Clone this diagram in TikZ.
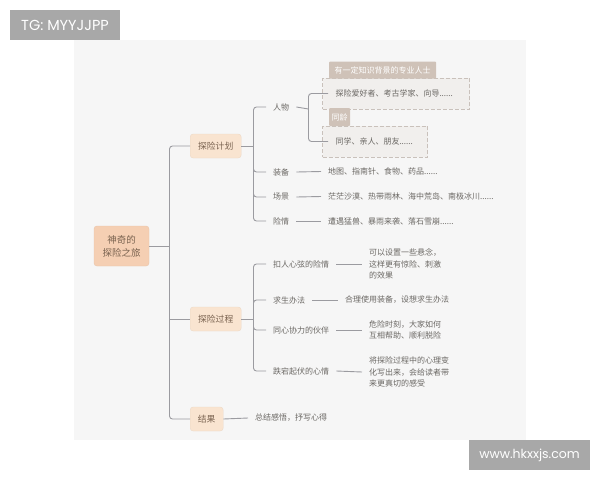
\documentclass[tikz,border=0pt]{standalone}
\usepackage{fontspec}
\setmainfont{Noto Sans CJK SC}
\newfontfamily\markfont{Poppins}
\definecolor{panelgray}{HTML}{F6F6F6}
\definecolor{markgray}{HTML}{A8A8A8}
\definecolor{linegray}{HTML}{9B9BA0}
\definecolor{inkgray}{HTML}{6B6864}
\definecolor{boxink}{HTML}{7A6350}
\definecolor{rootfill}{HTML}{F5CFB3}
\definecolor{topicfill}{HTML}{F9E4D0}
\definecolor{tagfill}{HTML}{CFC2B8}
\definecolor{notefill}{HTML}{F1EFED}
\definecolor{noteedge}{HTML}{C9C1BB}
\begin{document}
\begin{tikzpicture}[x=1pt,y=-1pt]
    \tikzset{
        rootbox/.style={fill=rootfill,draw=rootfill!95!black,rounded corners=3pt,text=boxink,font=\fontsize{9.5}{13}\selectfont,align=center,minimum width=55pt,minimum height=40pt,inner sep=0pt},
        topicbox/.style={fill=topicfill,draw=topicfill!95!black,rounded corners=3pt,text=boxink,font=\fontsize{8.8}{11}\selectfont,minimum height=24pt,inner sep=0pt,anchor=west},
        itemtext/.style={anchor=west,inner xsep=7pt,inner ysep=0pt,text=inkgray,font=\fontsize{8}{11.2}\selectfont,align=left},
        notebox/.style={anchor=west,fill=notefill,draw=noteedge,dash pattern=on 4pt off 2pt,line width=1pt,inner xsep=0pt,inner ysep=0pt,minimum height=31pt,text=inkgray,font=\fontsize{8}{11}\selectfont,align=left},
        tagbox/.style={anchor=west,fill=tagfill,rounded corners=1pt,text=white,font=\fontsize{8}{10}\selectfont,minimum height=17pt,inner sep=0pt},
        wire/.style={draw=linegray,line width=0.9pt,rounded corners=3pt},
        markbox/.style={fill=markgray,text=white,inner sep=0pt,font=\markfont}
    }
    % frame
    \useasboundingbox (0,0) rectangle (600,480);
    \fill[panelgray] (74,40) rectangle (526,440);
    \node[markbox,minimum width=110pt,minimum height=30pt,font=\markfont\fontsize{14.5}{15}\selectfont] (tgmark) at (65,25) {TG: MYYJJPP};
    \node[markbox,minimum width=121pt,minimum height=30pt,font=\markfont\fontsize{12.5}{13}\selectfont] (sitemark) at (529.5,455) {www.hkxxjs.com};

    % main topics
    \node[rootbox] (root) at (121.5,246) {神奇的\\探险之旅};
    \node[topicbox,minimum width=51pt] (plan) at (190,146) {探险计划};
    \node[topicbox,minimum width=51pt] (trip) at (190,319) {探险过程};
    \node[topicbox,minimum width=33pt] (ending) at (190,419) {结果};
    \coordinate (maintrunk) at (169.5,246);
    \draw[wire] (root.east) -- (maintrunk);
    \draw[wire] (maintrunk) |- (plan.west);
    \draw[wire] (maintrunk) |- (ending.west);
    \draw[wire] (maintrunk |- trip.west) -- (trip.west);

    % plan side
    \coordinate (plantrunk) at (253.5,146);
    \node[itemtext] (people) at (266,107) {人物};
    \node[itemtext] (gear) at (266,172) {装备};
    \node[itemtext] (scene) at (266,197) {场景};
    \node[itemtext] (danger) at (266,221) {险情};
    \node[itemtext] (gearnote) at (321,171.5) {地图、指南针、食物、药品......};
    \node[itemtext] (scenenote) at (321,196.5) {茫茫沙漠、热带雨林、海中荒岛、南极冰川......};
    \node[itemtext] (dangernote) at (321,221) {遭遇猛兽、暴雨来袭、落石雪崩......};
    \draw[wire] (plan.east) -- (plantrunk);
    \foreach \n in {people,gear,scene,danger}
        \draw[wire] (plantrunk) |- (\n.west);
    \draw[wire] (gear.east) -- (gearnote.west);
    \draw[wire] (scene.east) -- (scenenote.west);
    \draw[wire] (danger.east) -- (dangernote.west);

    % dashed notes
    \coordinate (peopletrunk) at (308.5,109);
    \node[notebox,text width=147pt] (expert) at (322,93.5) {\hspace*{13pt}探险爱好者、考古学家、向导......};
    \node[notebox,text width=105pt] (friend) at (322,141.5) {\hspace*{13pt}同学、亲人、朋友......};
    \node[tagbox,minimum width=107pt] (experttag) at (329,70) {有一定知识背景的专业人士};
    \node[tagbox,minimum width=21pt,minimum height=18pt] (friendtag) at (329,117) {同龄};
    \draw[wire] (people.east) -- (peopletrunk);
    \draw[wire] (peopletrunk) |- ([xshift=6pt]expert.west);
    \draw[wire] (peopletrunk) |- ([xshift=6pt]friend.west);

    % trip side
    \coordinate (triptrunk) at (253.5,319);
    \node[itemtext] (thrill) at (266,264) {扣人心弦的险情};
    \node[itemtext] (escape) at (266,300) {求生办法};
    \node[itemtext] (mates) at (266,330) {同心协力的伙伴};
    \node[itemtext] (mood) at (266,371) {跌宕起伏的心情};
    \node[itemtext] (thrillnote) at (362,264) {可以设置一些悬念，\\这样更有惊险、刺激\\的效果};
    \node[itemtext] (escapenote) at (338,300) {合理使用装备，设想求生办法};
    \node[itemtext] (matesnote) at (362,330) {危险时刻，大家如何\\互相帮助、顺利脱险};
    \node[itemtext] (moodnote) at (362,372) {将探险过程中的心理变\\化写出来，会给读者带\\来更真切的感受};
    \draw[wire] (trip.east) -- (triptrunk);
    \foreach \n in {thrill,escape,mates,mood}
        \draw[wire] (triptrunk) |- (\n.west);
    \draw[wire] (thrill.east) -- (thrillnote.west);
    \draw[wire] (escape.east) -- (escapenote.west);
    \draw[wire] (mates.east) -- (matesnote.west);
    \draw[wire] (mood.east) -- (moodnote.west);

    % ending side
    \node[itemtext] (endnote) at (248,418) {总结感悟，抒写心得};
    \draw[wire] (ending.east) -- (endnote.west);
\end{tikzpicture}
\end{document}
